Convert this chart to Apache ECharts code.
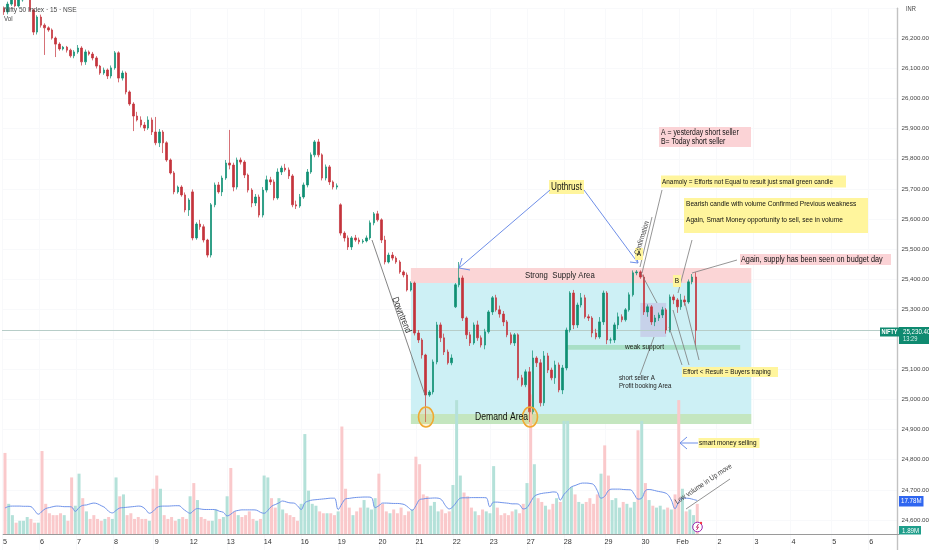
<!DOCTYPE html>
<html><head><meta charset="utf-8">
<style>html,body{margin:0;padding:0;background:#fff}#c{width:932px;height:550px}</style>
<script src="https://cdn.jsdelivr.net/npm/echarts@6/dist/echarts.min.js"></script>
</head><body><div id="c"></div>
<script>
const dayLabels=['5','6','7','8','9','12','13','14','16','19','20','21','22','23','27','28','29','30','Feb','2','3','4','5','6'];
const daySlots=[0,10,20,30,41,51,61,71,81,91,102,112,122,132,142,152,163,173,183,193,203,213,224,234];
const closes=[26288,26314,26334,26308,26328,26338,26344,26294,26221,26271,
26244,26235,26228,26201,26181,26165,26171,26161,26142,26155,
26168,26122,26155,26148,26135,26108,26085,26095,26075,26102,
26152,26068,26085,26022,25982,25942,25929,25912,25902,25929,
25889,25853,25889,25853,25796,25753,25690,25706,25680,25630,
25663,25537,25583,25574,25530,25480,25647,25713,25690,25736,
25786,25779,25706,25796,25789,25746,25696,25653,25673,25613,
25696,25730,25723,25670,25756,25769,25763,25743,25647,25643,
25673,25713,25756,25813,25856,25813,25736,25773,25723,25706,
25710,25553,25537,25507,25537,25530,25524,25527,25537,25587,
25617,25597,25530,25457,25480,25470,25457,25424,25414,25364,
25387,25221,25198,25148,25015,25025,25125,25248,25205,25158,
25122,25138,25381,25404,25271,25215,25188,25248,25205,25181,
25225,25291,25338,25298,25284,25258,25215,25188,25215,25072,
25049,25092,24959,25138,25122,24989,25145,25098,25072,25115,
25032,25105,25231,25354,25248,25314,25338,25275,25271,25221,
25208,25258,25354,25198,25198,25248,25275,25265,25298,25348,
25421,25424,25407,25291,25308,25258,25271,25281,25298,25231,
25341,25331,25308,25331,25324,25391,25407,25230];
const opens=[26300,26288,26314,26334,26308,26328,26338,26344,26294,26221,
26271,26244,26235,26228,26201,26181,26165,26171,26161,26142,
26155,26168,26122,26155,26148,26135,26108,26085,26095,26075,
26102,26152,26068,26085,26022,25982,25942,25929,25912,25902,
25929,25889,25853,25889,25853,25796,25753,25690,25706,25680,
25630,25690,25537,25583,25574,25530,25480,25647,25713,25690,
25736,25786,25779,25706,25796,25789,25746,25696,25653,25673,
25613,25696,25730,25723,25670,25756,25769,25763,25743,25647,
25643,25673,25713,25756,25813,25856,25813,25736,25773,25723,
25706,25647,25553,25537,25507,25537,25530,25524,25527,25537,
25587,25617,25597,25530,25457,25480,25470,25457,25424,25414,
25364,25387,25221,25198,25148,25015,25025,25125,25248,25205,
25158,25122,25308,25381,25404,25271,25215,25188,25248,25205,
25181,25225,25291,25338,25298,25284,25258,25215,25188,25215,
25072,25049,25092,24959,25138,25122,24989,25145,25098,25072,
25115,25032,25105,25231,25354,25248,25314,25338,25275,25271,
25221,25208,25258,25354,25198,25198,25248,25275,25265,25298,
25348,25421,25424,25407,25291,25308,25258,25271,25281,25298,
25231,25341,25331,25308,25331,25324,25391,25407];
const upperWicks=[6,8,4,6,5,5,4,4,5,6,
8,6,5,5,5,6,4,4,5,6,
10,6,8,5,7,6,4,8,5,8,
6,5,8,5,5,6,14,12,10,12,
8,50,10,6,5,5,6,5,6,8,
6,8,6,14,8,4,6,8,10,8,
10,110,8,8,8,6,5,6,10,8,
10,14,10,8,12,8,14,8,6,14,
10,8,10,8,6,10,5,8,6,5,
8,5,6,8,6,10,8,6,8,8,
6,10,5,14,8,10,6,6,5,8,
6,5,10,6,4,6,8,10,8,14,
8,12,6,53,8,5,10,8,14,8,
10,6,6,10,14,10,6,8,6,5,
10,8,16,25,6,12,16,10,8,14,
8,10,8,6,10,8,16,10,8,6,
14,16,8,6,8,8,14,8,6,8,
8,6,5,8,8,6,10,8,10,6,
8,8,6,20,14,8,10,16];
const lowerWicks=[10,8,6,5,5,6,5,5,10,8,
8,90,6,5,43,6,5,8,6,8,
6,12,10,5,8,8,6,6,10,8,
6,14,8,8,6,50,5,8,10,6,
10,8,14,34,6,5,8,6,6,8,
20,8,6,10,8,8,8,8,6,14,
6,14,14,8,8,10,8,14,10,8,
8,8,10,8,6,10,6,10,8,10,
6,6,8,6,8,8,8,8,10,8,
8,8,12,10,10,6,8,6,5,6,
8,6,10,8,5,8,6,6,8,5,
5,8,10,12,90,6,8,8,14,10,
6,8,4,8,10,14,10,6,10,8,
14,6,10,6,12,14,8,6,10,8,
6,8,34,8,14,12,10,10,8,20,
8,14,8,8,14,10,8,6,10,14,
8,6,10,14,12,10,14,8,6,6,
6,8,6,10,16,10,14,10,10,12,
8,14,20,10,12,6,8,50];
const volumes=[43,16,10,6,7,7,9,8,6,6,
44,16,11,10,10,11,10,7,30,15,
32,19,12,8,10,8,7,8,9,8,
30,20,21,10,11,8,9,8,8,7,
24,31,24,10,8,9,7,8,9,8,
20,27,18,9,8,7,7,13,8,9,
20,35,12,10,9,10,12,8,7,8,
31,30,19,14,19,13,11,10,9,7,
16,53,23,16,15,12,11,11,11,10,
12,57,24,14,10,12,14,18,14,13,
19,32,16,12,11,13,11,14,10,12,
13,41,37,21,20,15,17,12,13,11,
12,26,71,31,22,20,14,12,10,13,
12,11,36,14,10,11,10,12,13,11,
16,27,74,37,19,17,15,13,16,19,
17,60,60,25,21,17,16,17,19,16,
21,32,47,31,18,19,14,17,16,14,
17,55,60,27,18,15,14,15,13,14,
13,21,71,24,12,13,10,16];
const greenVolumeSlots=[172];
const redVolumeSlots=[162,171];
const volumeAverage=[13.8,14.6,14.8,14.8,14.8,14.7,14.7,14.5,12.5,10.5,
12,13.5,14,14.5,14.8,14.7,14.5,14.5,14.3,12,
14,15.2,15.4,16,16.4,16,15,14,12,11.2,
12.5,13.8,14,14.2,14.4,14.6,14.8,14.5,13,11,
12,14,14.7,14.8,14.8,14.9,15,15,13.5,12,
11,12.5,13.5,13.2,13,13,13,12.8,12,11.5,
9.6,10.5,12,12.5,12.8,12.8,12.8,12.8,12.6,11.5,
11,12.5,14.7,15.6,16.5,17.5,17,16.5,16.4,15,
13,16.5,17.5,18,18.2,18.4,18.6,18.8,19,19,
13,16,18.6,18.9,19.2,19.4,19.5,19.6,19.6,19.3,
14,15,16.4,16.4,16.3,16.2,16.2,16,15.5,14,
12.6,15,18.2,18.6,18.9,19,19.1,19,18,15,
13.3,14.5,17,19,19.2,19.2,19.3,19.3,19.3,19.3,
19.2,14.4,16.9,16.9,16.7,16.5,16.3,16,16,15.5,
13.3,14,17,20,21,21.5,21.8,22,22.3,22.1,
18,21,23,25,25.7,26.5,27,27,26.8,26.2,
23,19,20,23,23.8,23.8,23.8,23.6,23.5,23.4,
21,18.5,19,23,23.6,23.3,22.8,22.4,22,21,
18,13.5,17,19,19,18.8,18.3,17.8];
const lastPrice=25230.4;
const SLOT_COUNT=242;
const categories=Array.from({length:SLOT_COUNT},(_,i)=>{const k=daySlots.indexOf(i);return k<0?'':dayLabels[k];});

const UP='#0f8f73',DOWN='#c4343c',FONT="'Liberation Sans',sans-serif",SQUEEZE=0.82;
const candleData=closes.map((c,i)=>[opens[i],c,Math.min(opens[i],c)-lowerWicks[i],Math.max(opens[i],c)+upperWicks[i]]);
const volIsUp=i=>greenVolumeSlots.includes(i)||(!redVolumeSlots.includes(i)&&closes[i]>=opens[i]);
const volData=volumes.map((v,i)=>({value:v,itemStyle:{color:volIsUp(i)?'#b4e1d9':'#fac9cb'}}));
const zone=(x1,x2,p1,p2,color)=>[{xAxis:x1,yAxis:p1,itemStyle:{color,opacity:1}},{xAxis:x2,yAxis:p2}];

const T=(x,y,text,size,extra)=>Object.assign({type:'text',z:20,x,y,scaleX:SQUEEZE,style:{text,font:`${(extra&&extra.w)||'normal'} ${size}px ${FONT}`,fill:(extra&&extra.fill)||'#111',align:(extra&&extra.align)||'left',verticalAlign:'middle'}},extra&&extra.rot!=null?{rotation:extra.rot}:{});
const R=(x,y,w,h,fill,z)=>({type:'rect',z:z||15,shape:{x,y,width:w,height:h,r:0},style:{fill}});
const L=(x1,y1,x2,y2,c,w)=>({type:'line',z:16,shape:{x1,y1,x2,y2},style:{stroke:c||'#7b7b7b',lineWidth:w||0.8}});
const ARROW='#6f8fe8';
const arrowHead=(x,y,ax,ay,bx,by)=>({type:'polyline',z:17,shape:{points:[[ax,ay],[x,y],[bx,by]]},style:{stroke:ARROW,fill:null,lineWidth:1}});
const E=(cx,cy)=>({type:'ellipse',z:14,shape:{cx,cy,rx:7.5,ry:10},style:{fill:'rgba(255,190,70,0.22)',stroke:'#f0a830',lineWidth:1.6}});

const notes=[
 T(4,9.5,'Nifty 50 Index · 15 · NSE',8,{fill:'#444'}),
 T(4,19,'Vol',7.5,{fill:'#444'}),
 T(906,9,'INR',7,{fill:'#444'}),
 L(372,240,425,395,'#777',0.9),
 T(401.5,315,'Downtrend',9.5,{rot:-1.19,align:'center',fill:'#333'}),
 E(426,417),E(530,417),
 R(549,180,35,14,'#fff59d'),
 T(566.5,187,'Upthrust',10,{align:'center'}),
 L(550,190,459,268,ARROW,1), arrowHead(459,268,462,258,470,270),
 L(584,190,638,263,ARROW,1), arrowHead(638,263,630,262,636,253),
 T(525,275,'Strong  Supply Area',9.5,{fill:'#222'}),
 T(475,417.5,'Demand Area',10.5),
 T(625,347,'weak support',8,{fill:'#222'}),
 T(619,378,'short seller A',7.5,{fill:'#222'}),
 T(619,386,'Profit booking Area',7.5,{fill:'#222'}),
 L(640,375,654,337),
 R(659,127,92,20,'#fbd3d6'),
 T(661,133,'A = yesterday short seller',8.4),
 T(661,142,'B= Today short seller',8.4),
 R(661,175.5,185,12,'#fff59d'),
 T(662,181.5,'Anamoly = Efforts not Equal to result just small green candle',7.8),
 L(662,190,642,273),
 R(684,198,184,35,'#fff59d'),
 T(686,204,'Bearish candle with volume Confirmed Previous weakness',8),
 T(686,220,'Again, Smart Money opportunity to sell, see in volume',8),
 L(692,240,678,293),
 R(740,254,151,11,'#fbd3d6'),
 T(741,259.5,'Again, supply has been seen on budget day',8.9),
 L(737,260,692,273),
 L(652,217,640,267),
 T(642,238,'Confirmation',7.5,{rot:1.27,align:'center',fill:'#444'}),
 R(635,248,8,12,'#fff59d',18), T(639,254,'A',8,{align:'center'}),
 R(673,275,8,12,'#fff59d',18), T(677,281,'B',8,{align:'center'}),
 L(641,273,657,303), L(669,327,682,365), L(673,310,689,365), L(685,303,699,360),
 R(682,367,96,10,'#fff59d'),
 T(683,372,'Effort < Result = Buyers traping',7.7),
 R(698.5,438,61,10,'#fff59d'),
 T(699,443,'smart money selling',7.9),
 L(698,443,680,443,ARROW,1), arrowHead(680,443,687,437,687,449),
 T(703.5,484,'Low volume in Up move',7.6,{rot:0.59,align:'center',fill:'#444'}),
 L(686,509,730,479,'#888',0.9),
 {type:'circle',z:16,shape:{cx:697.5,cy:527,r:4.8},style:{fill:'#fff',stroke:'#9c27b0',lineWidth:1}},
 {type:'polyline',z:17,shape:{points:[[698.5,524],[696.5,527.3],[698.5,527],[696.5,530]]},style:{stroke:'#c2185b',fill:null,lineWidth:0.9}},
 {type:'circle',z:18,shape:{cx:701,cy:523,r:1.2},style:{fill:'#f23645'}},
 R(880,327.5,19,9,'#0f8a70',19),
 T(889.5,332,'NIFTY',6.8,{align:'center',fill:'#fff',w:'bold'}),
 R(899,327,30,17,'#0f8a70',19),
 T(903,332,'25,230.40',7.5,{fill:'#fff'}),
 T(903,339.5,'13:29',7,{fill:'#d8f0ea'}),
 R(899,496,24.5,10.5,'#2f66f0',19),
 T(901,501,'17.78M',7.5,{fill:'#fff'}),
 R(899,526,22,8.5,'#1f9e8b',19),
 T(902,530.5,'1.89M',7.5,{fill:'#fff'})
];

const chart=echarts.init(document.getElementById('c'),null,{renderer:'canvas'});
chart.setOption({
 animation:false,backgroundColor:'#fff',
 grid:[{left:2,width:897,top:8.3,height:541.7,containLabel:false},
       {left:2,width:897,top:300,height:234,containLabel:false}],
 xAxis:[
  {type:'category',gridIndex:0,data:categories,axisLine:{show:false},axisTick:{show:false},axisLabel:{show:false},
   splitLine:{show:true,interval:i=>daySlots.includes(i),lineStyle:{color:'#f8f9fb',width:1}}},
  {type:'category',gridIndex:1,data:categories,axisLine:{lineStyle:{color:'#9a9a9a',width:1}},axisTick:{show:false},
   axisLabel:{interval:0,color:'#333',fontFamily:FONT,fontSize:7.2,margin:5,hideOverlap:false},splitLine:{show:false}}
 ],
 yAxis:[
  {type:'value',gridIndex:0,position:'right',min:24500,max:26300,interval:100,
   axisLine:{show:true,lineStyle:{color:'#c2c2c2',width:1.4}},axisTick:{show:false},
   axisLabel:{color:'#444',fontFamily:FONT,fontSize:6.2,margin:4,
     formatter:v=>(v<24600||v>26200||v===25200)?'':v.toLocaleString('en-US',{minimumFractionDigits:2})},
   splitLine:{show:true,lineStyle:{color:'#f8f9fb',width:1}}},
  {type:'value',gridIndex:1,position:'right',min:0,max:124.1,axisLine:{show:false},axisTick:{show:false},axisLabel:{show:false},splitLine:{show:false}}
 ],
 graphic:{elements:notes},
 series:[
  {type:'bar',name:'Vol',xAxisIndex:1,yAxisIndex:1,data:volData,barWidth:3,z:3,silent:true},
  {type:'line',name:'Vol MA',xAxisIndex:1,yAxisIndex:1,data:volumeAverage,smooth:0.4,showSymbol:false,z:4,silent:true,
   lineStyle:{color:'#6f93ea',width:1}},
  {type:'candlestick',name:'NIFTY',xAxisIndex:0,yAxisIndex:0,data:candleData,barWidth:2,clip:false,z:5,silent:true,
   itemStyle:{color:UP,color0:DOWN,borderColor:UP,borderColor0:DOWN,borderWidth:0.7},
   markArea:{silent:true,z:1,data:[
     zone(110.4,202.2,25387,25437,'#fbd5d6'),
     zone(110.4,202.2,24952,25387,'#cdf0f5'),
     zone(110.4,202.2,24919,24952,'#c4e6bf'),
     zone(151.6,199.1,25165,25181,'#a8dfc6'),
     zone(172.1,179.4,25208,25321,'#c7d2ea')]},
   markLine:{silent:true,symbol:'none',label:{show:false},lineStyle:{color:'#b7cdc8',width:1,type:'solid'},data:[{yAxis:lastPrice}]}}
 ]
});
</script></body></html>
